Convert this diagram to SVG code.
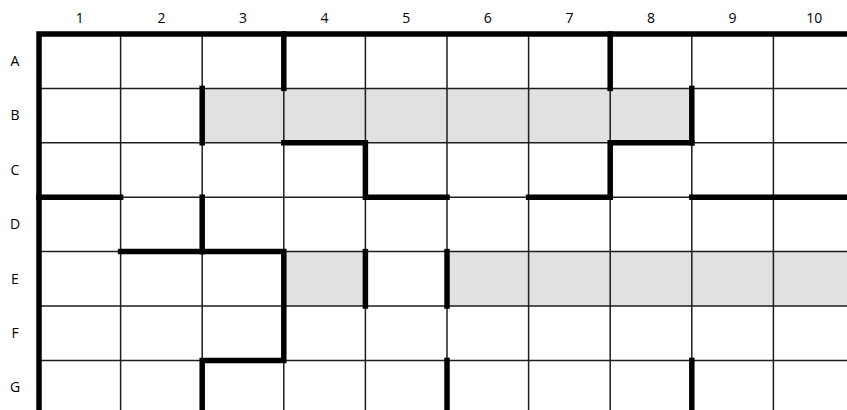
<svg xmlns="http://www.w3.org/2000/svg" width="847" height="410" viewBox="0 0 847 410">
<style>
.lbl{font-family:"Open Sans","Liberation Sans",sans-serif;font-size:14px;fill:#000;text-anchor:middle}
.grid{stroke:#1e1e1e;stroke-width:1.5;fill:none}
.wall{stroke:#000;stroke-width:5.5;fill:none;stroke-linecap:square}
.shade{fill:#e1e1e1}
</style>
<rect x="0" y="0" width="847" height="410" fill="#fff"/>
<g id="shading">
<rect class="shade" x="202.2" y="88.4" width="489.6" height="54.4"/>
<rect class="shade" x="283.8" y="251.6" width="81.6" height="54.4"/>
<rect class="shade" x="447" y="251.6" width="400" height="54.4"/>
</g>
<g id="grid" class="grid">
<path d="M120.6 34V410M202.2 34V410M283.8 34V410M365.4 34V410M447 34V410M528.6 34V410M610.2 34V410M691.8 34V410M773.4 34V410"/>
<path d="M39 88.4H847M39 142.8H847M39 197.2H847M39 251.6H847M39 306H847M39 360.4H847"/>
</g>
<g id="walls" class="wall">
<path d="M39 412V34H849"/>
<path d="M283.8 34V88.4"/>
<path d="M610.2 34V88.4"/>
<path d="M202.2 88.4V142.8"/>
<path d="M691.8 88.4V142.8"/>
<path d="M283.8 142.8H365.4V197.2H447"/>
<path d="M691.8 142.8H610.2V197.2H528.6"/>
<path d="M39 197.2H120.6"/>
<path d="M691.8 197.2H849"/>
<path d="M202.2 197.2V251.6"/>
<path d="M120.6 251.6H283.8V360.4H202.2V412"/>
<path d="M365.4 251.6V306"/>
<path d="M447 251.6V306"/>
<path d="M447 360.4V412"/>
<path d="M691.8 360.4V412"/>
</g>
<g id="col-labels" class="lbl">
<text x="79.8" y="23">1</text>
<text x="161.4" y="23">2</text>
<text x="243" y="23">3</text>
<text x="324.6" y="23">4</text>
<text x="406.2" y="23">5</text>
<text x="487.8" y="23">6</text>
<text x="569.4" y="23">7</text>
<text x="651" y="23">8</text>
<text x="732.6" y="23">9</text>
<text x="814.2" y="23">10</text>
</g>
<g id="row-labels" class="lbl">
<text x="15" y="66">A</text>
<text x="15" y="120">B</text>
<text x="15" y="175">C</text>
<text x="15" y="229">D</text>
<text x="15" y="284">E</text>
<text x="15" y="338">F</text>
<text x="15" y="392">G</text>
</g>
</svg>
